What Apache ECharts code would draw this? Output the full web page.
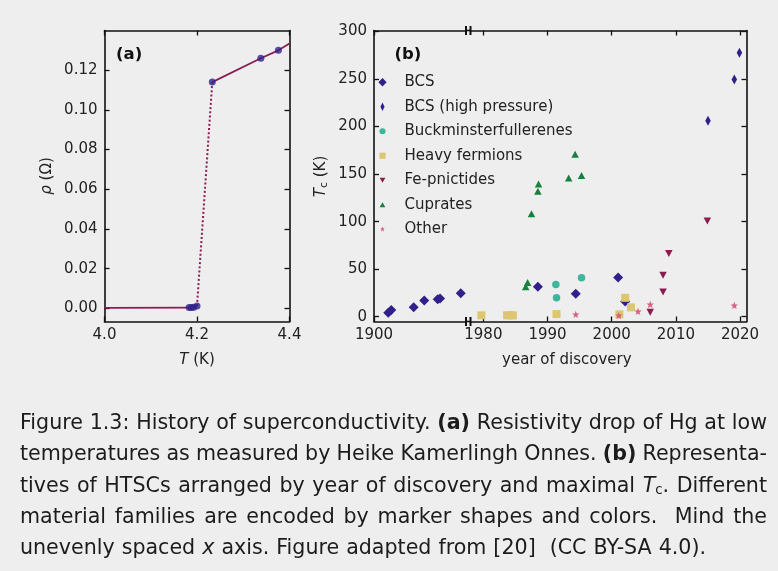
<!DOCTYPE html>
<html><head><meta charset="utf-8">
<script src="https://cdn.jsdelivr.net/npm/echarts@6/dist/echarts.min.js"></script>
<style>
html,body{margin:0;padding:0;background:#eeeeee;}
#chart{position:absolute;left:0;top:0;width:778px;height:571px;}
#cap{position:absolute;left:0;top:0;width:778px;height:571px;pointer-events:none;font-family:"DejaVu Sans",sans-serif;font-size:20px;color:#1c1c1c;}
.ln{position:absolute;left:20px;white-space:nowrap;line-height:24px;}
.ln sub{font-size:0.65em;vertical-align:-0.15em;line-height:0;}
</style></head><body>
<div id="chart"></div>
<div id="cap">
<div class="ln" style="top:410px" data-w="747">Figure 1.3: History of superconductivity. <b>(a)</b> Resistivity drop of Hg at low</div>
<div class="ln" style="top:441px" data-w="747">temperatures as measured by Heike Kamerlingh Onnes. <b>(b)</b> Representa-</div>
<div class="ln" style="top:472.5px" data-w="747">tives of HTSCs arranged by year of discovery and maximal <i>T</i><sub>c</sub>. Different</div>
<div class="ln" style="top:503.5px" data-w="747">material families are encoded by marker shapes and colors.&nbsp; Mind the</div>
<div class="ln" style="top:534.5px" data-w="686">unevenly spaced <i>x</i> axis. Figure adapted from [20]&nbsp; (CC BY-SA 4.0).</div>
</div>
<script>
// ---------- Panel (a): Hg resistivity ----------
const hgLowT = [4.0, 4.183, 4.188, 4.193, 4.200];
const hgLowRho = [0.0003, 0.0004, 0.0004, 0.0006, 0.0012];
const hgJumpT = [4.200, 4.233];
const hgJumpRho = [0.0012, 0.114];
const hgHighT = [4.233, 4.338, 4.376, 4.4];
const hgHighRho = [0.114, 0.126, 0.130, 0.1335];
const hgMeasT = [4.183, 4.188, 4.193, 4.200, 4.233, 4.338, 4.376];
const hgMeasRho = [0.0004, 0.0004, 0.0006, 0.0012, 0.114, 0.126, 0.130];
const tTicks = [4.0, 4.2, 4.4];
const rhoTicks = [0, 0.02, 0.04, 0.06, 0.08, 0.10, 0.12];

// ---------- Panel (b): Tc vs year ----------
const bcsYear = [1912, 1914.5, 1933.4, 1942.3, 1953.6, 1955.6, 1973.0, 1988.5, 1994.4, 2001.0, 2002.1];
const bcsTc   = [4.2, 7.0, 9.9, 17.2, 18.3, 19.3, 24.6, 31.5, 24.1, 41.3, 16.1];
const bcsHpYear = [2015.0, 2019.1, 2019.9];
const bcsHpTc   = [206, 249.6, 277.6];
const fullYear = [1991.3, 1991.4, 1995.3];
const fullTc   = [34, 20, 40.9];
const heavyYear = [1979.7, 1983.7, 1984.2, 1984.6, 1991.4, 2001.2, 2002.1, 2003.0];
const heavyTc   = [1.5, 1.5, 1.5, 1.5, 2.8, 2.5, 19.9, 9.9];
const feYear = [2006.0, 2008.0, 2008.0, 2008.9, 2014.9];
const feTc   = [4.6, 25.9, 43.7, 66.5, 100.7];
const cupYear = [1986.6, 1986.9, 1987.5, 1988.5, 1988.6, 1993.3, 1994.3, 1995.3];
const cupTc   = [31.5, 36, 108.4, 132, 139.5, 145.8, 171, 148.6];
const otherYear = [1994.4, 2001.1, 2004.1, 2006.0, 2019.1];
const otherTc   = [2.5, 1.4, 5.7, 13, 12];
const familyNames = ['BCS', 'BCS (high pressure)', 'Buckminsterfullerenes', 'Heavy fermions', 'Fe-pnictides', 'Cuprates', 'Other'];
const tcTicks = [0, 50, 100, 150, 200, 250, 300];
const yearTicksLeft = [1900];
const yearTicksRight = [1980, 1990, 2000, 2010, 2020];

// ---------- styling ----------
const FONT = 'DejaVu Sans';
const AX = '#111111';
const TXT = '#222222';
const STAR = 'path://M5,0L6.2,3.4L9.8,3.45L6.95,5.65L7.95,9.05L5,7.05L2.05,9.05L3.05,5.65L0.2,3.45L3.8,3.4Z';
const fam = [
  {x: bcsYear, y: bcsTc, color: '#31208c', symbol: 'diamond', size: [10, 10], rot: 0,
   icon: 'path://M0,0M10,10M5,0.4L9.6,5L5,9.6L0.4,5Z'},
  {x: bcsHpYear, y: bcsHpTc, color: '#31208c', symbol: 'diamond', size: [5.5, 10], rot: 0,
   icon: 'path://M0,0M10,10M5,0.4L7.3,5L5,9.6L2.7,5Z'},
  {x: fullYear, y: fullTc, color: '#3fb5a0', symbol: 'circle', size: 7.5, rot: 0,
   icon: 'path://M0,0M10,10M8.4,5A3.4,3.4,0,1,1,1.6,5A3.4,3.4,0,1,1,8.4,5Z'},
  {x: heavyYear, y: heavyTc, color: '#dcc672', symbol: 'rect', size: 8, rot: 0,
   icon: 'path://M0,0M10,10M1.6,1.6L8.4,1.6L8.4,8.4L1.6,8.4Z'},
  {x: feYear, y: feTc, color: '#8c1c50', symbol: 'triangle', size: [7.5, 7], rot: 180,
   icon: 'path://M0,0M10,10M1.8,2.2L8.2,2.2L5,7.9Z'},
  {x: cupYear, y: cupTc, color: '#18803f', symbol: 'triangle', size: [7.5, 7], rot: 0,
   icon: 'path://M0,0M10,10M5,2.1L8.2,7.8L1.8,7.8Z'},
  {x: otherYear, y: otherTc, color: '#d85f80', symbol: STAR, size: 7.5, rot: 0,
   icon: 'path://M0,0M10,10M5,2.0L5.7,4.0L7.3,4.0L6.1,5.4L6.7,7.7L5,6.2L3.3,7.7L3.9,5.4L2.7,4.0L4.3,4.0Z'}
];

// layout (pixels)
const GA = {left: 104.5, top: 30.5, width: 185, height: 291};
const GB1 = {left: 374, top: 30.5, width: 92, height: 291};
const GB2 = {left: 470.5, top: 30.5, width: 276, height: 291};

function pair(xs, ys) { return xs.map((v, i) => [v, ys[i]]); }

function xAx(grid, pos, min, max, ticks, labels, fmt) {
  return {
    type: 'value', gridIndex: grid, position: pos, min: min, max: max,
    axisLine: {show: true, onZero: false, lineStyle: {color: AX, width: 1.6}},
    axisTick: {show: true, inside: true, length: 5, lineStyle: {color: AX, width: 1.3}, customValues: ticks},
    axisLabel: {show: labels, customValues: ticks, margin: 6, color: TXT, fontFamily: FONT, fontSize: 15,
      formatter: fmt},
    splitLine: {show: false}
  };
}
function yAx(grid, pos, min, max, ticks, labels, fmt) {
  return {
    type: 'value', gridIndex: grid, position: pos, min: min, max: max,
    axisLine: {show: true, onZero: false, lineStyle: {color: AX, width: 1.6}},
    axisTick: {show: true, inside: true, length: 5, lineStyle: {color: AX, width: 1.3}, customValues: ticks},
    axisLabel: {show: labels, customValues: ticks, margin: 7, color: TXT, fontFamily: FONT, fontSize: 15,
      formatter: fmt},
    splitLine: {show: false}
  };
}

const fmtT = v => v.toFixed(1);
const fmtRho = v => v.toFixed(2);
const fmtInt = v => String(Math.round(v));

const B1max = 1900 + 92 / 1.188;
const B2min = 1978.0, B2max = 2021.0;

const series = [];
// Panel (a)
series.push({type: 'line', xAxisIndex: 0, yAxisIndex: 0, data: pair(hgLowT, hgLowRho), symbol: 'none',
  lineStyle: {color: '#8b1d52', width: 1.8}, z: 2, clip: true, silent: true});
series.push({type: 'line', xAxisIndex: 0, yAxisIndex: 0, data: pair(hgJumpT, hgJumpRho), symbol: 'none',
  lineStyle: {color: '#8b1d52', width: 2, type: [2, 2.2]}, z: 2, clip: true, silent: true});
series.push({type: 'line', xAxisIndex: 0, yAxisIndex: 0, data: pair(hgHighT, hgHighRho), symbol: 'none',
  lineStyle: {color: '#8b1d52', width: 1.8}, z: 2, clip: true, silent: true});
series.push({type: 'scatter', xAxisIndex: 0, yAxisIndex: 0, data: pair(hgMeasT, hgMeasRho), symbol: 'circle',
  symbolSize: 7, itemStyle: {color: '#31208c'}, z: 3, silent: true});

// Panel (b): each family drawn on both broken-axis halves (clipped)
fam.forEach((f, i) => {
  [[2, 2], [3, 3]].forEach(([xi, yi]) => {
    series.push({
      type: 'scatter', name: familyNames[i], xAxisIndex: xi, yAxisIndex: yi,
      data: pair(f.x, f.y), symbol: f.symbol, symbolSize: f.size, symbolRotate: f.rot,
      itemStyle: {color: f.color, opacity: 1}, clip: true, z: 3 + i * 0.01, silent: true
    });
  });
});

const chart = echarts.init(document.getElementById('chart'), null, {renderer: 'canvas'});
const sub = {fontFamily: FONT, fontSize: 11, fill: TXT, verticalAlign: 'bottom', lineHeight: 10};

const breakLines = [];
const xL = GB1.left + GB1.width, xR = GB2.left;
[GB1.top, GB1.top + GB1.height].forEach(yy => {
  breakLines.push({type: 'line', shape: {x1: xL, y1: yy - 4.5, x2: xL, y2: yy + 4.5}, style: {stroke: AX, lineWidth: 2}, silent: true});
  breakLines.push({type: 'line', shape: {x1: xR, y1: yy - 4.5, x2: xR, y2: yy + 4.5}, style: {stroke: AX, lineWidth: 2}, silent: true});
  breakLines.push({type: 'line', shape: {x1: xL, y1: yy, x2: xR, y2: yy}, style: {stroke: AX, lineWidth: 1.6}, silent: true});
});

chart.setOption({
  animation: false,
  backgroundColor: '#eeeeee',
  grid: [
    Object.assign({containLabel: false}, GA),
    Object.assign({containLabel: false}, GB1),
    Object.assign({containLabel: false}, GB2)
  ],
  xAxis: [
    xAx(0, 'bottom', 4.0, 4.4, tTicks, true, fmtT),
    xAx(0, 'top', 4.0, 4.4, tTicks, false, fmtT),
    xAx(1, 'bottom', 1900, B1max, yearTicksLeft, true, fmtInt),
    xAx(2, 'bottom', B2min, B2max, yearTicksRight, true, fmtInt),
    xAx(1, 'top', 1900, B1max, yearTicksLeft, false, fmtInt),
    xAx(2, 'top', B2min, B2max, yearTicksRight, false, fmtInt)
  ],
  yAxis: [
    yAx(0, 'left', -0.0066, 0.14, rhoTicks, true, fmtRho),
    yAx(0, 'right', -0.0066, 0.14, rhoTicks, false, fmtRho),
    yAx(1, 'left', -5, 301, tcTicks, true, fmtInt),
    yAx(2, 'right', -5, 301, tcTicks, false, fmtInt)
  ],
  legend: {
    orient: 'vertical', left: 378, top: 73.5, padding: 0,
    itemWidth: 34, itemHeight: 9, itemGap: 7, selectedMode: false,
    symbolKeepAspect: true,
    textStyle: {fontFamily: FONT, fontSize: 15, color: TXT, lineHeight: 17.5},
    data: familyNames.map((n, i) => ({name: n, icon: fam[i].icon, itemStyle: {color: fam[i].color}}))
  },
  graphic: [
    {type: 'text', x: 116, y: 55, silent: true,
     style: {text: '(a)', fontFamily: FONT, fontWeight: 'bold', fontSize: 16.5, fill: '#111', align: 'left', verticalAlign: 'middle'}},
    {type: 'text', x: 394.5, y: 55, silent: true,
     style: {text: '(b)', fontFamily: FONT, fontWeight: 'bold', fontSize: 16.5, fill: '#111', align: 'left', verticalAlign: 'middle'}},
    {type: 'text', x: 197, y: 360, silent: true,
     style: {text: '{i|T} (K)', fontFamily: FONT, fontSize: 15, fill: TXT, align: 'center', verticalAlign: 'middle',
       rich: {i: {fontFamily: FONT, fontStyle: 'italic', fontSize: 15, fill: TXT}}}},
    {type: 'text', x: 46.7, y: 176, rotation: Math.PI / 2, silent: true,
     style: {text: '{i|ρ} (Ω)', fontFamily: FONT, fontSize: 15, fill: TXT, align: 'center', verticalAlign: 'middle',
       rich: {i: {fontFamily: FONT, fontStyle: 'italic', fontSize: 15, fill: TXT}}}},
    {type: 'text', x: 566.8, y: 360, silent: true,
     style: {text: 'year of discovery', fontFamily: FONT, fontSize: 15, fill: TXT, align: 'center', verticalAlign: 'middle'}},
    {type: 'text', x: 320.7, y: 176.5, rotation: Math.PI / 2, silent: true,
     style: {text: '{i|T}{s|c} (K)', fontFamily: FONT, fontSize: 15, fill: TXT, align: 'center', verticalAlign: 'middle',
       rich: {i: {fontFamily: FONT, fontStyle: 'italic', fontSize: 15, fill: TXT, lineHeight: 18},
              s: sub}}}
  ].concat(breakLines),
  series: series
});

// caption justification: font size fitted on the first (fully set) line, residual per line as word spacing
const lines = Array.from(document.querySelectorAll('.ln'));
const w1 = lines[0].getBoundingClientRect().width;
const fs = Math.max(17, Math.min(23, 20 * 745 / w1));
lines.forEach(el => { el.style.fontSize = fs + 'px'; });
lines.forEach(el => {
  const target = +el.dataset.w;
  const w = el.getBoundingClientRect().width;
  const n = (el.textContent.match(/[ \u00a0]/g) || []).length;
  if (n) el.style.wordSpacing = ((target - w) / n) + 'px';
});
</script>
</body></html>
